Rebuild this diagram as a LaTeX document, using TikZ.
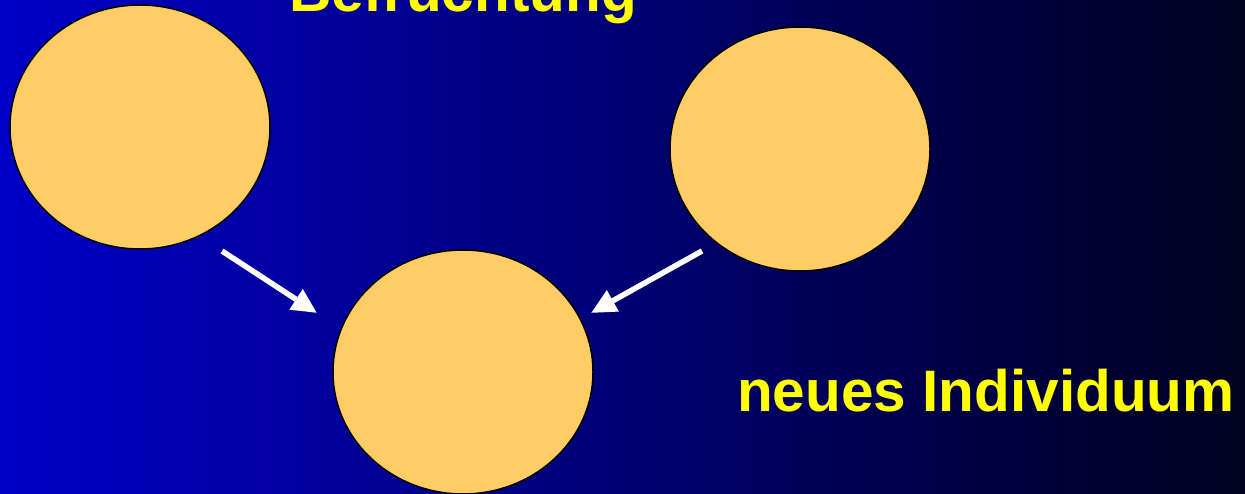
\documentclass[tikz,border=0pt]{standalone}
\usepackage{fontspec}
\setmainfont{Liberation Sans}
\usetikzlibrary{arrows.meta,shapes.geometric}
\definecolor{bgleft}{RGB}{0,0,200}
\definecolor{bgmid}{RGB}{0,0,140}
\definecolor{bgright}{RGB}{0,0,30}
\definecolor{cellfill}{RGB}{255,204,102}
\definecolor{labelyellow}{RGB}{255,255,0}
\begin{document}
\begin{tikzpicture}[x=1pt,y=-1pt,
  cell/.style={ellipse, draw=black, line width=1.5pt, fill=cellfill, minimum width=260pt, minimum height=244pt, inner sep=0pt},
  label/.style={text=labelyellow, font=\bfseries\fontsize{58.5}{60}\selectfont, inner sep=0pt, anchor=base west},
  whitearrow/.style={draw=white, line width=5.5pt, -{Triangle[length=25pt,width=23pt]}}
]
\path[use as bounding box, left color=bgleft, middle color=bgmid, right color=bgright] (0,0) rectangle (1245,494);
\node[cell] (a) at (140,127) {};
\node[cell] (b) at (800,149) {};
\node[cell] (c) at (463,372) {};
\node[label] (t1) at (289,12) {Befruchtung};
\node[label] (t2) at (737,411) {neues Individuum};
\coordinate (a1) at (222,251);
\coordinate (a2) at (317,313);
\coordinate (b1) at (702,251);
\coordinate (b2) at (591,313);
\draw[whitearrow] (a1) -- (a2);
\draw[whitearrow] (b1) -- (b2);
\end{tikzpicture}
\end{document}
